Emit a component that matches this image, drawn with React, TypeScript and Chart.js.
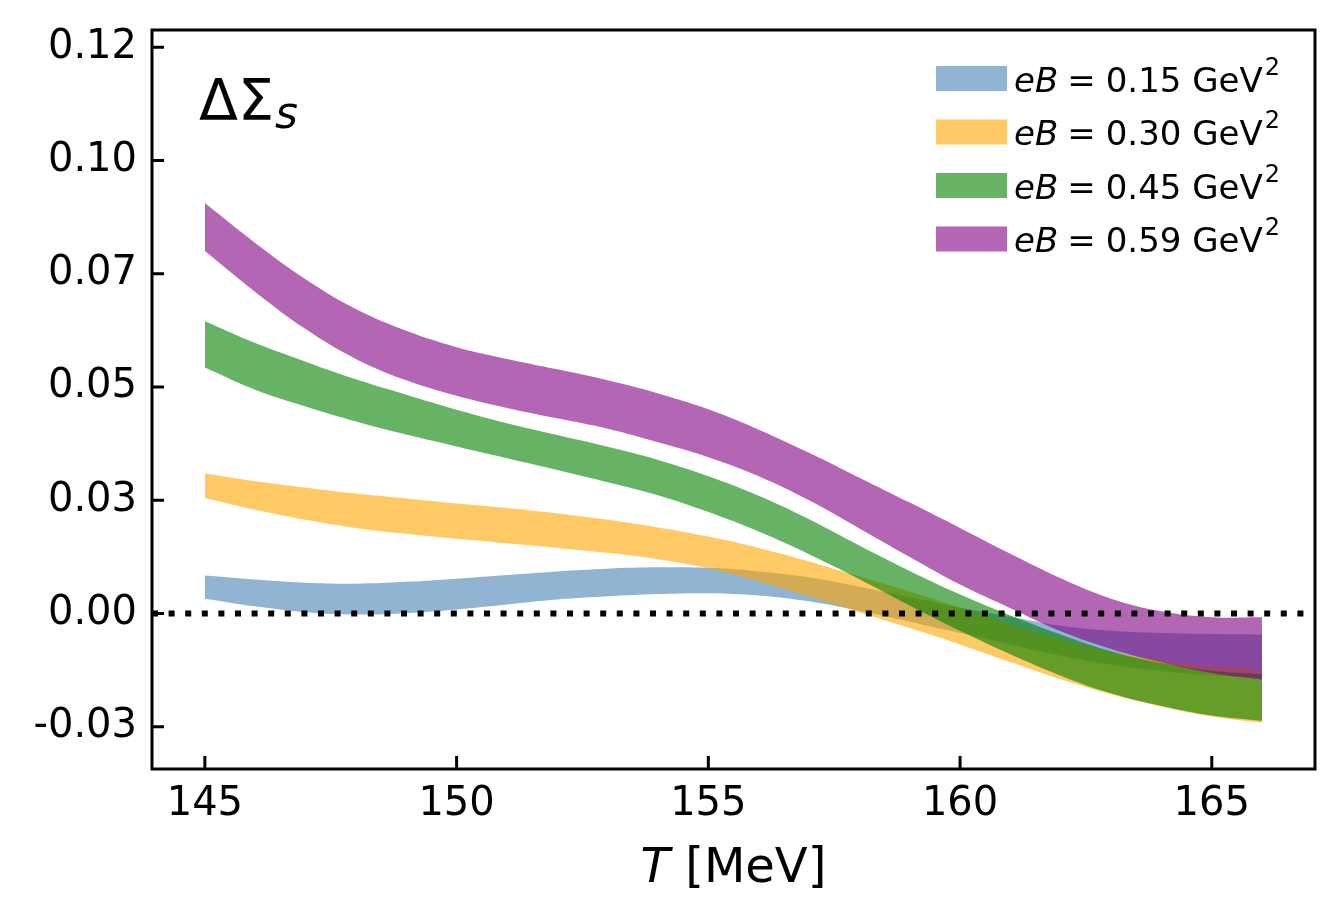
import { useEffect, useRef } from "react";
import { Chart, registerables, type Plugin } from "chart.js";

Chart.register(...registerables);

const FONT = '"DejaVu Sans", sans-serif';

// temperature grid, MeV
const temperatures = [
  145, 146, 147, 148, 149, 150, 151, 152, 153, 154, 155,
  156, 157, 158, 159, 160, 161, 162, 163, 164, 165, 166,
];

// band edges
const blueUpper = [
  0.0084, 0.0075, 0.0068, 0.0066, 0.0070, 0.0077, 0.0085, 0.0093, 0.0099, 0.0102, 0.0101,
  0.0093, 0.0080, 0.0059, 0.0036, 0.0013, -0.0007, -0.0027, -0.0038, -0.0043, -0.0045, -0.0046,
];
const blueLower = [
  0.0033, 0.0016, 0.0003, -0.0002, 0.0001, 0.0009, 0.0020, 0.0031, 0.0038, 0.0043, 0.0045,
  0.0040, 0.0027, 0.0006, -0.0018, -0.0043, -0.0068, -0.0093, -0.0113, -0.0127, -0.0136, -0.0141,
];
const orangeUpper = [
  0.0309, 0.0292, 0.0278, 0.0265, 0.0254, 0.0243, 0.0233, 0.0221, 0.0207, 0.0190, 0.0170,
  0.0145, 0.0115, 0.0082, 0.0049, 0.0013, -0.0024, -0.0057, -0.0084, -0.0103, -0.0116, -0.0123,
];
const orangeLower = [
  0.0255, 0.0229, 0.0207, 0.0189, 0.0176, 0.0165, 0.0155, 0.0145, 0.0134, 0.0120, 0.0100,
  0.0071, 0.0038, 0.0003, -0.0032, -0.0068, -0.0107, -0.0145, -0.0178, -0.0205, -0.0227, -0.0241,
];
const greenUpper = [
  0.0645, 0.0597, 0.0556, 0.0517, 0.0483, 0.0450, 0.0420, 0.0394, 0.0368, 0.0339, 0.0303,
  0.0260, 0.0208, 0.0150, 0.0094, 0.0042, -0.0004, -0.0046, -0.0083, -0.0109, -0.0126, -0.0134,
];
const greenLower = [
  0.0543, 0.0494, 0.0457, 0.0424, 0.0395, 0.0369, 0.0343, 0.0317, 0.0290, 0.0261, 0.0224,
  0.0181, 0.0131, 0.0076, 0.0018, -0.0038, -0.0090, -0.0137, -0.0176, -0.0204, -0.0225, -0.0237,
];
const purpleUpper = [
  0.0906, 0.0818, 0.0738, 0.0672, 0.0624, 0.0588, 0.0562, 0.0539, 0.0515, 0.0486, 0.0451,
  0.0406, 0.0355, 0.0300, 0.0245, 0.0189, 0.0132, 0.0078, 0.0033, 0.0005, -0.0008, -0.0008,
];
const purpleLower = [
  0.0800, 0.0710, 0.0628, 0.0562, 0.0515, 0.0481, 0.0454, 0.0431, 0.0408, 0.0378, 0.0345,
  0.0303, 0.0250, 0.0188, 0.0125, 0.0064, 0.0012, -0.0039, -0.0078, -0.0108, -0.0131, -0.0146,
];

const eBValues = ["0.15", "0.30", "0.45", "0.59"];
const bandColors = [
  "rgba(70,130,180,0.6)",
  "rgba(255,165,0,0.6)",
  "rgba(0,128,0,0.6)",
  "rgba(128,0,128,0.6)",
];

const xTicks = [145, 150, 155, 160, 165];
const yTicks = [-0.025, 0, 0.025, 0.05, 0.075, 0.1, 0.125];
const yTickLabels = ["-0.03", "0.00", "0.03", "0.05", "0.07", "0.10", "0.12"];

const bands = [
  { upper: blueUpper, lower: blueLower },
  { upper: orangeUpper, lower: orangeLower },
  { upper: greenUpper, lower: greenLower },
  { upper: purpleUpper, lower: purpleLower },
];

const toPoints = (ys: number[]) => temperatures.map((t, i) => ({ x: t, y: ys[i] }));

// zero line, frame with inward ticks, text labels and legend
const decorPlugin: Plugin<"line"> = {
  id: "decor",
  afterDatasetsDraw(chart) {
    const { ctx, chartArea: a, scales } = chart;
    const y0 = scales.y.getPixelForValue(0);
    ctx.save();
    ctx.beginPath();
    ctx.rect(a.left, a.top, a.right - a.left, a.bottom - a.top);
    ctx.clip();
    ctx.strokeStyle = "#000";
    ctx.lineWidth = 6;
    ctx.lineCap = "butt";
    ctx.setLineDash([6, 10.6]);
    ctx.beginPath();
    ctx.moveTo(a.left, y0);
    ctx.lineTo(a.right, y0);
    ctx.stroke();
    ctx.restore();
  },
  afterDraw(chart) {
    const { ctx, chartArea: a, scales } = chart;
    ctx.save();
    ctx.strokeStyle = "#000";
    ctx.lineWidth = 3;
    ctx.setLineDash([]);
    ctx.strokeRect(a.left, a.top, a.right - a.left, a.bottom - a.top);

    // inward ticks
    ctx.beginPath();
    yTicks.forEach((v) => {
      const py = scales.y.getPixelForValue(v);
      ctx.moveTo(a.left, py);
      ctx.lineTo(a.left + 12, py);
    });
    xTicks.forEach((v) => {
      const px = scales.x.getPixelForValue(v);
      ctx.moveTo(px, a.bottom);
      ctx.lineTo(px, a.bottom - 13);
    });
    ctx.stroke();

    ctx.fillStyle = "#000";
    ctx.textBaseline = "alphabetic";
    ctx.textAlign = "left";

    // x axis label
    ctx.font = `italic 48px ${FONT}`;
    const wT = ctx.measureText("T").width;
    ctx.font = `48px ${FONT}`;
    const wRest = ctx.measureText(" [MeV]").width;
    const cx = (a.left + a.right) / 2;
    const xs = cx - (wT + wRest) / 2;
    ctx.font = `italic 48px ${FONT}`;
    ctx.fillText("T", xs, 882);
    ctx.font = `48px ${FONT}`;
    ctx.fillText(" [MeV]", xs + wT, 882);

    // quantity label
    ctx.font = `57px ${FONT}`;
    ctx.fillText("ΔΣ", 199, 120);
    const wSig = ctx.measureText("ΔΣ").width;
    ctx.font = `italic 44px ${FONT}`;
    ctx.fillText("s", 199 + wSig + 1, 128);

    // legend
    eBValues.forEach((val, i) => {
      const cy = 78.5 + i * 53.5;
      ctx.fillStyle = bandColors[i];
      ctx.fillRect(936, cy - 12.5, 71, 25);
      ctx.fillStyle = "#000";
      const base = cy + 13;
      let x = 1014;
      ctx.font = `italic 34px ${FONT}`;
      ctx.fillText("eB", x, base);
      x += ctx.measureText("eB").width + 9;
      ctx.font = `34px ${FONT}`;
      ctx.fillText("=", x, base);
      x += ctx.measureText("=").width + 10;
      const txt = `${val} GeV`;
      ctx.fillText(txt, x, base);
      x += ctx.measureText(txt).width + 2;
      ctx.font = `24px ${FONT}`;
      ctx.fillText("2", x, base - 17);
    });
    ctx.restore();
  },
};

export default function App() {
  const canvasRef = useRef<HTMLCanvasElement>(null);

  useEffect(() => {
    document.body.style.margin = "0";
    document.body.style.overflow = "hidden";
    if (!canvasRef.current) return;

    const datasets = bands.flatMap((b, i) => [
      {
        label: `eB = ${eBValues[i]} GeV²`,
        data: toPoints(b.upper),
        fill: "+1",
        backgroundColor: bandColors[i],
        borderColor: "transparent",
        borderWidth: 0,
        pointRadius: 0,
        tension: 0.4,
        order: 4 - i,
      },
      {
        label: `lower ${eBValues[i]}`,
        data: toPoints(b.lower),
        fill: false,
        borderColor: "transparent",
        borderWidth: 0,
        pointRadius: 0,
        tension: 0.4,
        order: 4 - i,
      },
    ]);

    const chart = new Chart(canvasRef.current, {
      type: "line",
      data: { datasets },
      options: {
        animation: false,
        responsive: true,
        maintainAspectRatio: false,
        layout: { padding: { top: 30, right: 29, left: 0, bottom: 0 } },
        plugins: {
          legend: { display: false },
          tooltip: { enabled: false },
        },
        scales: {
          x: {
            type: "linear",
            min: 143.95,
            max: 167.05,
            grid: { display: false, drawTicks: false },
            border: { display: false },
            afterBuildTicks: (scale) => {
              scale.ticks = xTicks.map((v) => ({ value: v }));
            },
            afterFit: (scale) => {
              scale.height = 150;
              scale.paddingLeft = 0;
              scale.paddingRight = 0;
            },
            ticks: {
              font: { family: FONT, size: 40 },
              color: "#000",
              padding: 12,
              maxRotation: 0,
              callback: (v) => String(v),
            },
          },
          y: {
            type: "linear",
            min: -0.0343,
            max: 0.1288,
            grid: { display: false, drawTicks: false },
            border: { display: false },
            afterBuildTicks: (scale) => {
              scale.ticks = yTicks.map((v) => ({ value: v }));
            },
            afterFit: (scale) => {
              scale.width = 152;
              scale.paddingTop = 0;
              scale.paddingBottom = 0;
            },
            ticks: {
              font: { family: FONT, size: 40 },
              color: "#000",
              padding: 15,
              callback: (v) => {
                const k = yTicks.findIndex((t) => Math.abs(t - Number(v)) < 1e-9);
                return k >= 0 ? yTickLabels[k] : "";
              },
            },
          },
        },
      },
      plugins: [decorPlugin],
    });

    return () => chart.destroy();
  }, []);

  return (
    <div style={{ width: 1344, height: 919, position: "relative" }}>
      <canvas ref={canvasRef} />
    </div>
  );
}
